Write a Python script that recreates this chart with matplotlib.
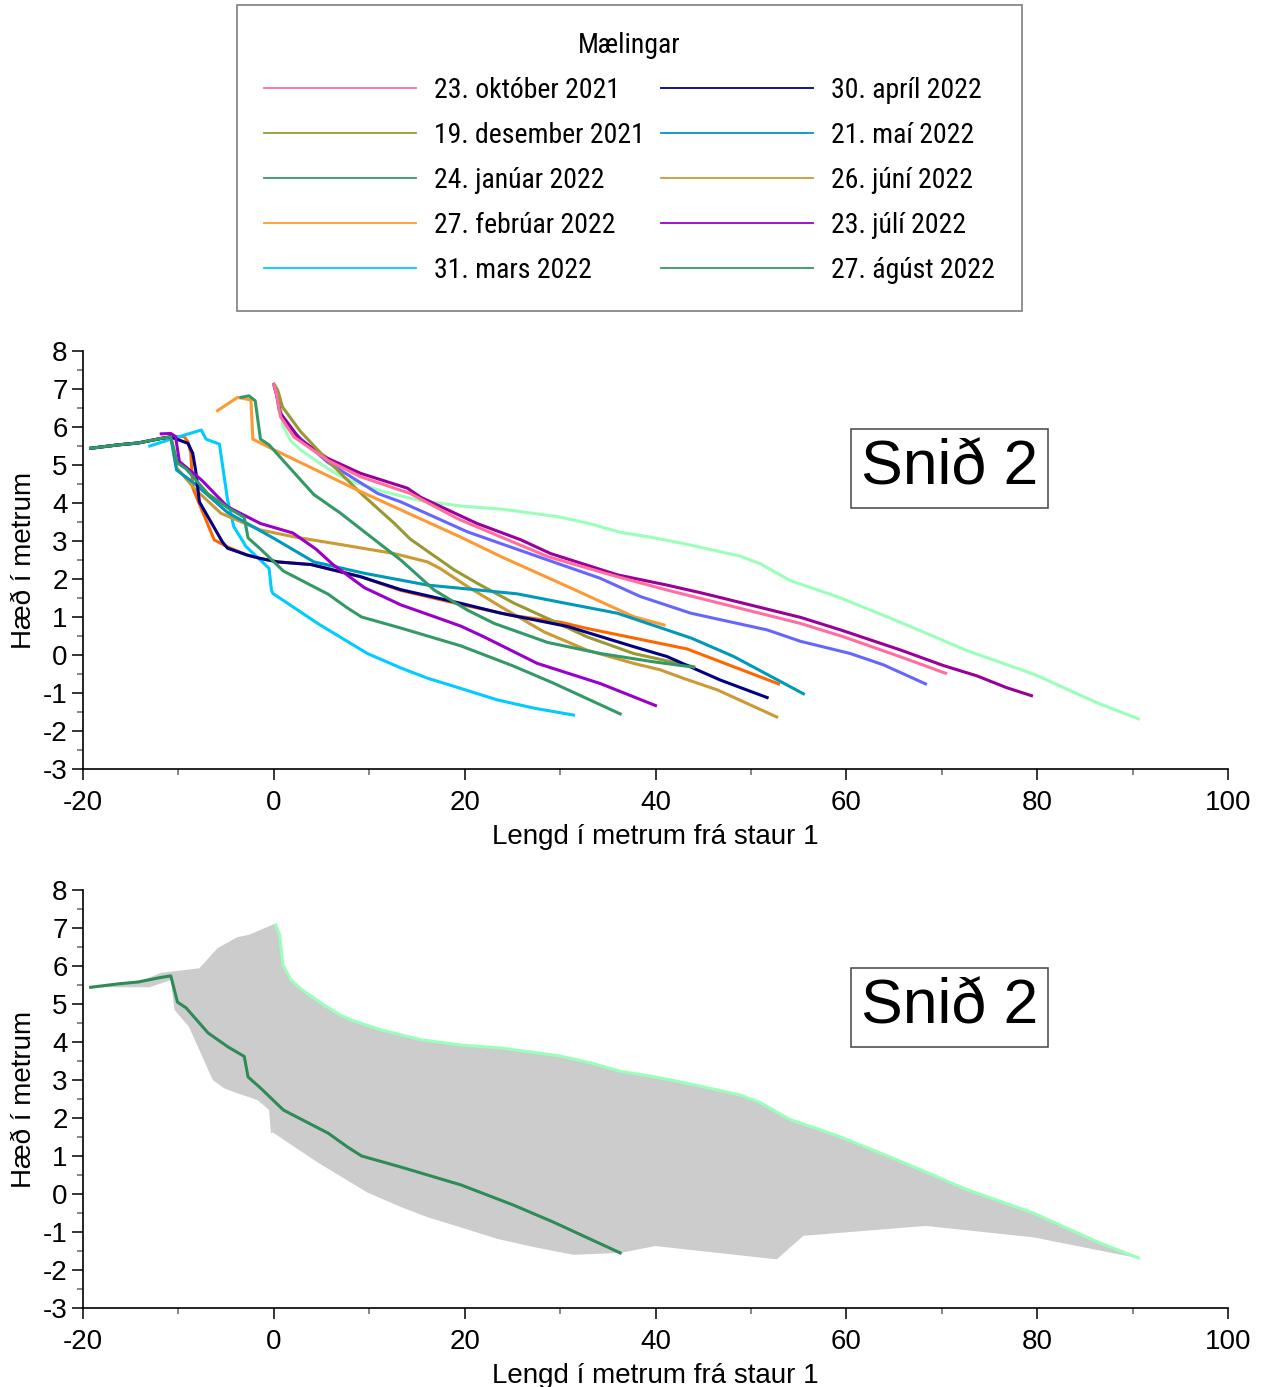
import numpy as np
import matplotlib
matplotlib.use("Agg")
import matplotlib.pyplot as plt
from matplotlib import font_manager as fm
from matplotlib.ticker import MultipleLocator
from matplotlib.lines import Line2D

plt.rcParams['font.family'] = ['Liberation Sans', 'DejaVu Sans']
plt.rcParams['axes.unicode_minus'] = False

# Common landward start shared by several profiles
base_x = [-19.2, -16.3, -14.2, -11.8, -10.8]
base_y = [5.44, 5.53, 5.58, 5.70, 5.74]

# Earlier profiles (not listed in the legend)
early_a_x = [0.2, 0.6, 0.95, 1.8, 2.8, 4.9, 7.0, 8.1, 11.2, 15.4, 19.6, 23.8, 28.0, 30.0, 33.2,
             36.3, 39.5, 42.6, 46.8, 48.9, 51.0, 54.1, 59.1, 65.3, 72.7, 79.6, 86.3, 90.6]
early_a_y = [7.08, 6.82, 6.03, 5.63, 5.40, 5.03, 4.70, 4.58, 4.32, 4.06, 3.92, 3.84, 3.70, 3.63, 3.45,
             3.23, 3.10, 2.95, 2.72, 2.60, 2.40, 1.96, 1.53, 0.90, 0.11, -0.50, -1.26, -1.68]
early_b_x = [0.0, 0.3, 0.7, 2.8, 5.6, 9.1, 14.0, 15.4, 21.3, 25.9, 29.0, 36.0, 41.2, 44.7, 46.5,
             55.2, 59.4, 65.7, 70.2, 73.7, 76.8, 79.4]
early_b_y = [7.12, 6.84, 6.36, 5.66, 5.18, 4.78, 4.39, 4.15, 3.46, 3.03, 2.67, 2.11, 1.84, 1.64, 1.53,
             0.99, 0.66, 0.13, -0.28, -0.55, -0.86, -1.07]
early_c_x = [0.0, 0.3, 0.55, 1.4, 5.6, 10.9, 13.3, 20.3, 28.7, 34.2, 38.4, 43.7, 51.7, 55.2, 60.4, 63.9, 68.3]
early_c_y = [7.12, 6.84, 6.45, 6.01, 5.08, 4.25, 4.03, 3.24, 2.50, 2.02, 1.54, 1.10, 0.66, 0.36, 0.04, -0.26, -0.76]
early_d_x = base_x + [-9.4, -9.0, -8.7, -8.5, -6.25, -4.9, -2.8, -1.4, 0.4, 3.9, 9.1, 13.3, 19.6,
                      24.8, 30.1, 32.8, 43.3, 48.2, 52.9]
early_d_y = base_y + [5.75, 5.61, 5.31, 4.40, 3.03, 2.85, 2.63, 2.54, 2.45, 2.38, 2.06, 1.70, 1.33,
                      1.05, 0.86, 0.70, 0.16, -0.31, -0.76]

# Measurements 2021-2022
okt_x = [0.0, 0.3, 0.7, 2.1, 5.6, 9.1, 14.3, 19.4, 28.7, 36.0, 41.2, 44.7, 48.2, 51.7, 55.2, 59.7, 65.7, 70.4]
okt_y = [7.12, 6.84, 6.27, 5.74, 5.13, 4.69, 4.25, 3.57, 2.59, 2.06, 1.71, 1.49, 1.27, 1.05, 0.83, 0.48, -0.05, -0.48]
des_x = [0.0, 0.4, 0.9, 2.8, 5.6, 9.1, 12.6, 14.3, 18.9, 21.3, 25.2, 28.7, 32.8, 37.7, 44.0]
des_y = [7.12, 6.97, 6.53, 5.88, 5.13, 4.26, 3.47, 3.05, 2.24, 1.89, 1.36, 0.96, 0.48, 0.04, -0.31]
jan_x = [-3.45, -2.6, -1.95, -1.4, -0.5, 4.2, 7.0, 9.6, 13.3, 16.8, 20.3, 23.1, 28.7, 34.2, 39.8, 44.0]
jan_y = [6.78, 6.82, 6.69, 5.68, 5.53, 4.22, 3.73, 3.22, 2.50, 1.71, 1.18, 0.83, 0.33, 0.04, -0.18, -0.32]
feb_x = [-5.9, -3.8, -2.4, -2.2, -0.3, 9.1, 13.3, 19.6, 23.8, 30.8, 37.7, 40.9]
feb_y = [6.43, 6.78, 6.71, 5.68, 5.44, 4.30, 3.82, 3.10, 2.59, 1.80, 1.01, 0.79]
mar_x = [-13.0, -10.8, -7.6, -7.1, -5.7, -4.85, -4.2, -2.9, -0.5, -0.25, -0.1, 4.6, 9.8, 13.3,
         16.1, 19.6, 23.4, 27.3, 31.4]
mar_y = [5.50, 5.68, 5.92, 5.68, 5.55, 4.08, 3.38, 2.85, 2.28, 1.71, 1.62, 0.83, 0.04, -0.34,
         -0.61, -0.88, -1.18, -1.40, -1.58]
apr_x = base_x + [-9.0, -8.5, -8.2, -7.8, -5.4, -4.85, -2.8, -1.4, 0.4, 3.9, 9.1, 13.3, 19.6, 23.8,
                  30.8, 37.7, 41.2, 46.8, 51.7]
apr_y = base_y + [5.57, 5.31, 4.87, 4.03, 2.98, 2.81, 2.63, 2.54, 2.45, 2.38, 2.06, 1.72, 1.36, 1.10,
                  0.75, 0.22, -0.04, -0.66, -1.12]
mai_x = base_x + [-10.2, -8.35, -4.85, 0.0, 4.2, 9.5, 16.1, 19.4, 25.5, 30.4, 36.0, 43.8, 48.2, 55.5]
mai_y = base_y + [4.87, 4.52, 3.75, 3.07, 2.45, 2.15, 1.84, 1.76, 1.61, 1.37, 1.10, 0.44, -0.04, -1.02]
jun_x = base_x + [-10.2, -8.35, -5.55, -1.4, 2.1, 7.4, 12.6, 16.1, 17.4, 20.3, 23.8, 28.3, 32.8, 37.7,
                  40.5, 43.0, 46.5, 52.7]
jun_y = base_y + [4.93, 4.39, 3.73, 3.29, 3.11, 2.89, 2.67, 2.45, 2.28, 1.80, 1.27, 0.61, 0.13, -0.22,
                  -0.39, -0.62, -0.92, -1.63]
jul_x = [-11.8, -10.8, -10.3, -9.9, -7.6, -4.85, -1.4, 2.0, 4.4, 6.2, 9.5, 13.3, 16.8, 19.6, 22.0,
         27.6, 34.2, 40.0]
jul_y = [5.82, 5.83, 5.75, 5.09, 4.61, 3.90, 3.46, 3.21, 2.79, 2.38, 1.77, 1.32, 1.01, 0.76, 0.48,
         -0.22, -0.75, -1.33]
agu_x = base_x + [-10.1, -9.2, -6.9, -4.8, -3.1, -2.7, -1.4, 1.0, 5.7, 7.7, 9.2, 13.3, 19.6, 25.1,
                  29.3, 36.3]
agu_y = base_y + [5.05, 4.90, 4.24, 3.87, 3.62, 3.08, 2.79, 2.21, 1.60, 1.24, 1.00, 0.71, 0.24, -0.29,
                  -0.74, -1.55]

# Range of all measured profiles (shaded band)
band_top_x = [-19.2, -16.3, -14.2, -11.8, -7.8, -5.9, -3.8, -2.6, 0.0]
band_top_y = [5.44, 5.53, 5.58, 5.82, 5.94, 6.47, 6.76, 6.82, 7.10]
band_low_x = [-19.2, -13.05, -10.8, -10.4, -8.9, -6.4, -5.2, -3.8, -1.7, -0.5, -0.3, -0.1, 4.6, 9.8,
              13.3, 16.1, 19.6, 23.4, 27.3, 31.4, 36.3, 40.0, 52.7, 55.5, 68.3, 79.6, 90.6]
band_low_y = [5.44, 5.44, 5.63, 4.84, 4.40, 3.00, 2.78, 2.65, 2.47, 2.21, 1.60, 1.62, 0.83, 0.04,
              -0.34, -0.61, -0.88, -1.18, -1.40, -1.60, -1.55, -1.37, -1.72, -1.10, -0.84, -1.14, -1.69]

labels = ["23. október 2021", "19. desember 2021", "24. janúar 2022", "27. febrúar 2022",
          "31. mars 2022", "30. apríl 2022", "21. maí 2022", "26. júní 2022",
          "23. júlí 2022", "27. ágúst 2022"]
colors = ["#FF6E9E", "#999933", "#339966", "#FF9933", "#00CCFF",
          "#000080", "#0099BB", "#CC9933", "#9900CC", "#339966"]
series = [(okt_x, okt_y), (des_x, des_y), (jan_x, jan_y), (feb_x, feb_y), (mar_x, mar_y),
          (apr_x, apr_y), (mai_x, mai_y), (jun_x, jun_y), (jul_x, jul_y), (agu_x, agu_y)]
early = [(early_a_x, early_a_y, "#99FFBB"), (early_c_x, early_c_y, "#6666FF"),
         (early_b_x, early_b_y, "#990099"), (early_d_x, early_d_y, "#FF6600")]


def narrow_font():
    """Pick a narrow sans face for the legend, falling back to a regular one."""
    entries = fm.fontManager.ttflist
    names = {f.name for f in entries}
    for n in ["Liberation Sans Narrow", "Arial Narrow", "Roboto Condensed",
              "Open Sans Condensed", "Noto Sans Condensed", "DejaVu Sans Condensed"]:
        if n in names:
            return n, "normal"
    for f in entries:
        if f.stretch in ("condensed", "semi-condensed", "extra-condensed") and "Sans" in f.name \
                and f.style == "normal" and f.weight in (400, "normal", "regular"):
            return f.name, f.stretch
    return "Liberation Sans", "normal"


leg_family, leg_stretch = narrow_font()
leg_size = 20 if leg_family != "Liberation Sans" else 17

W, H = 1265, 1387
fig = plt.figure(figsize=(W / 100, H / 100), dpi=100)


def axes_px(left, top, right, bottom):
    return fig.add_axes([left / W, 1 - bottom / H, (right - left) / W, (bottom - top) / H])


def style_axes(ax):
    ax.set_xlim(-20, 100)
    ax.set_ylim(-3, 8)
    for s in ("top", "right"):
        ax.spines[s].set_visible(False)
    for s in ("left", "bottom"):
        ax.spines[s].set_linewidth(1.2)
    ax.xaxis.set_major_locator(MultipleLocator(20))
    ax.xaxis.set_minor_locator(MultipleLocator(10))
    ax.yaxis.set_major_locator(MultipleLocator(1))
    ax.yaxis.set_minor_locator(MultipleLocator(0.5))
    ax.tick_params(which="major", direction="out", length=8, width=1.1, labelsize=20)
    ax.tick_params(axis="x", which="major", pad=7)
    ax.tick_params(axis="y", which="major", pad=3)
    ax.tick_params(which="minor", direction="out", length=4.5, width=1.1, color="#666666")
    ax.set_xlabel("Lengd í metrum frá staur 1", fontsize=20, labelpad=6)
    ax.set_ylabel("Hæð í metrum", fontsize=20, labelpad=4)
    ax.text(0.757, 0.72, "Snið 2", transform=ax.transAxes, fontsize=45, ha="center", va="center",
            bbox=dict(boxstyle="square,pad=0.16", fc="white", ec="#444444", lw=1.1))


LW = 2.2

# Upper panel: all profiles
ax1 = axes_px(83, 351, 1228, 769)
for x, y, c in early:
    ax1.plot(x, y, color=c, lw=LW, solid_joinstyle="round")
order = [1, 3, 0, 4, 7, 6, 5, 8, 2, 9]
for i in order:
    x, y = series[i]
    ax1.plot(x, y, color=colors[i], lw=LW, solid_joinstyle="round")
style_axes(ax1)

# Lower panel: envelope with first and last profile
ax2 = axes_px(83, 890, 1228, 1308)
poly_x = band_top_x + early_a_x + band_low_x[::-1]
poly_y = band_top_y + early_a_y + band_low_y[::-1]
ax2.fill(poly_x, poly_y, color="#CCCCCC", lw=0)
ax2.plot(early_a_x, early_a_y, color="#99FFBB", lw=LW)
ax2.plot(agu_x, agu_y, color="#2E8B57", lw=LW)
style_axes(ax2)

# Legend (sizes given in pixels, converted to font-size units)
em = leg_size * 100 / 72
leg_prop = fm.FontProperties(family=[leg_family, "DejaVu Sans"], stretch=leg_stretch, size=leg_size)
handles = [Line2D([], [], color=c, lw=1.3) for c in colors]
leg = fig.legend(handles, labels, ncol=2, title="Mælingar", loc="upper left",
                 bbox_to_anchor=(237 / W, 1 - 308 / H, 785 / W, 303 / H), mode="expand",
                 borderaxespad=0, prop=leg_prop, title_fontproperties=leg_prop,
                 handlelength=152 / em, handletextpad=18 / em, columnspacing=25 / em,
                 labelspacing=18 / em, borderpad=27 / em, fancybox=False, framealpha=1)
leg.get_frame().set_edgecolor("#888888")
leg.get_frame().set_linewidth(1.3)

fig.savefig("out.png", dpi=100)
